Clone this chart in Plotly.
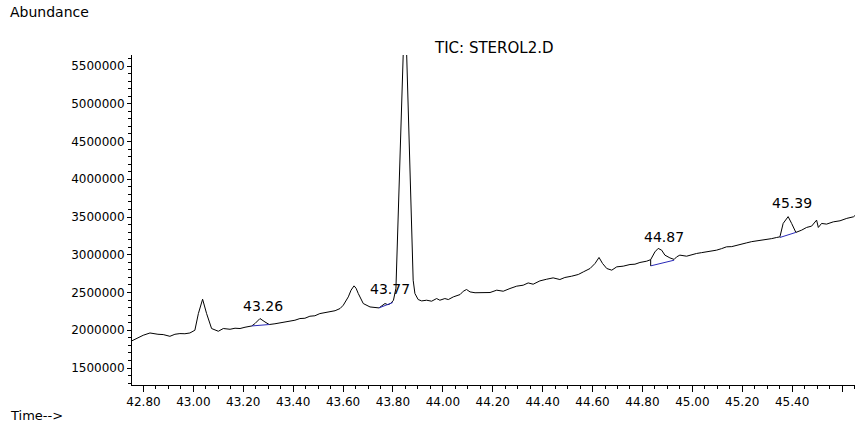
import plotly.graph_objects as go

# Retention time (min) and abundance
time_min = [42.754, 42.774, 42.799, 42.826, 42.839, 42.858, 42.879, 42.906, 42.926, 42.946,
            42.966, 42.986, 43.006, 43.020, 43.037, 43.053, 43.073, 43.100, 43.120, 43.147,
            43.167, 43.187, 43.207, 43.234, 43.247, 43.267, 43.287, 43.304, 43.327, 43.347,
            43.367, 43.387, 43.407, 43.427, 43.447, 43.467, 43.487, 43.507, 43.527, 43.547,
            43.568, 43.588, 43.601, 43.621, 43.632, 43.644, 43.652, 43.661, 43.681, 43.708,
            43.728, 43.744, 43.756, 43.768, 43.780, 43.792, 43.802, 43.812, 43.841, 43.848,
            43.855, 43.875, 43.881, 43.888, 43.901, 43.915, 43.935, 43.955, 43.975, 43.988,
            44.008, 44.022, 44.042, 44.069, 44.082, 44.095, 44.109, 44.129, 44.149, 44.169,
            44.189, 44.216, 44.242, 44.269, 44.296, 44.322, 44.342, 44.362, 44.389, 44.416,
            44.442, 44.469, 44.489, 44.516, 44.543, 44.563, 44.590, 44.610, 44.626, 44.640,
            44.657, 44.677, 44.697, 44.723, 44.750, 44.770, 44.790, 44.817, 44.833, 44.850,
            44.863, 44.877, 44.890, 44.910, 44.927, 44.937, 44.950, 44.977, 44.997, 45.017,
            45.037, 45.057, 45.077, 45.097, 45.117, 45.137, 45.158, 45.178, 45.198, 45.218,
            45.238, 45.258, 45.278, 45.298, 45.318, 45.338, 45.351, 45.364, 45.384, 45.398,
            45.415, 45.438, 45.458, 45.478, 45.498, 45.505, 45.518, 45.538, 45.565, 45.592,
            45.619, 45.646, 45.656]
abundance = [1861000, 1894000, 1934000, 1964000, 1956000, 1947000, 1943000, 1920000, 1947000, 1956000,
             1954000, 1964000, 2000000, 2221000, 2411000, 2221000, 2023000, 1987000, 2023000, 2013000,
             2027000, 2023000, 2040000, 2057000, 2089000, 2155000, 2110000, 2076000, 2086000, 2097000,
             2106000, 2123000, 2133000, 2155000, 2159000, 2186000, 2192000, 2221000, 2232000, 2243000,
             2259000, 2288000, 2332000, 2442000, 2531000, 2588000, 2557000, 2487000, 2354000, 2309000,
             2298000, 2296000, 2325000, 2354000, 2338000, 2358000, 2398000, 2557000, 5647000, 5800000,
             5647000, 3326000, 2663000, 2487000, 2407000, 2389000, 2398000, 2385000, 2420000, 2398000,
             2420000, 2407000, 2442000, 2473000, 2517000, 2540000, 2508000, 2497000, 2500000, 2504000,
             2500000, 2531000, 2517000, 2553000, 2584000, 2597000, 2627000, 2610000, 2654000, 2676000,
             2694000, 2672000, 2699000, 2716000, 2739000, 2773000, 2818000, 2885000, 2964000, 2885000,
             2818000, 2796000, 2840000, 2849000, 2871000, 2875000, 2898000, 2915000, 2935000, 3038000,
             3084000, 3061000, 2995000, 2959000, 2938000, 2972000, 2995000, 2981000, 3004000, 3017000,
             3028000, 3038000, 3048000, 3061000, 3081000, 3105000, 3108000, 3127000, 3147000, 3158000,
             3174000, 3184000, 3187000, 3203000, 3214000, 3229000, 3237000, 3415000, 3505000, 3415000,
             3296000, 3326000, 3362000, 3379000, 3459000, 3362000, 3415000, 3406000, 3436000, 3450000,
             3482000, 3503000, 3532000]

# Integration baselines (start/end) for labelled peaks
base_t0 = [43.234, 43.744, 44.833, 45.351]
base_v0 = [2057000, 2296000, 2853000, 3229000]
base_t1 = [43.304, 43.799, 44.927, 45.415]
base_v1 = [2076000, 2367000, 2928000, 3296000]

# Peak-start drop line (44.87 peak)
drop_t = [44.833, 44.833]
drop_v = [2853000, 2935000]

# Peak labels
peak_labels = ["43.26", "43.77", "44.87", "45.39"]
peak_rt = [43.26, 43.77, 44.87, 45.39]
peak_apex = [2155000, 2354000, 3084000, 3505000]

x_tickvals = [42.8, 43.0, 43.2, 43.4, 43.6, 43.8, 44.0, 44.2, 44.4, 44.6, 44.8, 45.0, 45.2, 45.4, 45.6]
x_ticktext = ["42.80", "43.00", "43.20", "43.40", "43.60", "43.80", "44.00", "44.20", "44.40",
              "44.60", "44.80", "45.00", "45.20", "45.40", ""]
y_tickvals = [1500000, 2000000, 2500000, 3000000, 3500000, 4000000, 4500000, 5000000, 5500000]

FONT = "DejaVu Sans"

fig = go.Figure()
fig.add_trace(go.Scatter(x=time_min, y=abundance, mode="lines",
                         line=dict(color="#000000", width=1), hoverinfo="skip"))
for t0, v0, t1, v1 in zip(base_t0, base_v0, base_t1, base_v1):
    fig.add_trace(go.Scatter(x=[t0, t1], y=[v0, v1], mode="lines",
                             line=dict(color="#2a2ab8", width=1), hoverinfo="skip"))
fig.add_trace(go.Scatter(x=drop_t, y=drop_v, mode="lines",
                         line=dict(color="#000000", width=1), hoverinfo="skip"))

shifts = [(5, 3), (4.5, 5), (4, 1), (2, 3.5)]
annotations = []
for lab, rt, ap, (dx, dy) in zip(peak_labels, peak_rt, peak_apex, shifts):
    annotations.append(dict(x=rt, y=ap, xref="x", yref="y", text=lab, showarrow=False,
                            xanchor="center", yanchor="bottom", xshift=dx, yshift=dy,
                            font=dict(family=FONT, size=14, color="#000")))

annotations += [
    dict(x=-0.1715, y=1.13, xref="paper", yref="paper", text="Abundance", showarrow=False,
         xanchor="left", yanchor="middle", font=dict(family=FONT, size=14, color="#000")),
    dict(x=-0.1715, y=-0.091, xref="paper", yref="paper", text="Time-->", showarrow=False,
         xanchor="left", yanchor="middle", font=dict(family=FONT, size=13, color="#000")),
    dict(x=0.415, y=1.021, xref="paper", yref="paper", text="TIC: STEROL2.D", showarrow=False,
         xanchor="left", yanchor="middle", font=dict(family=FONT, size=15, color="#000")),
]

fig.update_layout(
    width=857, height=426,
    margin=dict(l=132, r=2, t=55, b=41),
    paper_bgcolor="white", plot_bgcolor="white",
    showlegend=False,
    hovermode=False,
    annotations=annotations,
    xaxis=dict(range=[42.754, 45.652], showgrid=False, zeroline=False,
               showline=True, linecolor="#000", linewidth=1,
               tickmode="array", tickvals=x_tickvals, ticktext=x_ticktext,
               ticks="outside", ticklen=6, tickcolor="#000", tickwidth=1,
               tickfont=dict(family=FONT, size=12, color="#000"),
               minor=dict(tickmode="linear", tick0=42.8, dtick=0.05, ticks="outside",
                          ticklen=3, tickcolor="#000")),
    yaxis=dict(range=[1275000, 5646000], showgrid=False, zeroline=False,
               showline=True, linecolor="#000", linewidth=1,
               tickmode="array", tickvals=y_tickvals,
               ticktext=[str(v) for v in y_tickvals],
               ticks="outside", ticklen=4, tickcolor="#000", tickwidth=1,
               tickfont=dict(family=FONT, size=12, color="#000"),
               minor=dict(tickmode="linear", tick0=1500000, dtick=100000, ticks="outside",
                          ticklen=3, tickcolor="#000")),
)

# Remove the browser's default 8px body margin so the figure fills the window exactly.
fig.write_html("out.html",
               config={"displayModeBar": False},
               post_script="document.body.style.margin='0';document.body.style.padding='0';")
